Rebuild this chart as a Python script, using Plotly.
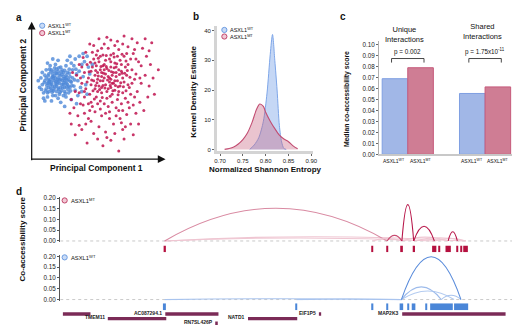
import plotly.graph_objects as go

W, H = 520, 325
def px(x): return x / W
def py(y): return 1 - y / H

FONT = "Liberation Sans, Arial, sans-serif"

# ---------------- panel a : PCA ----------------
wt_points = [(1.2,5.6),(1.4,5.9),(1.6,5.4),(1.8,6.0),(2.0,5.7),(2.2,5.3),(2.4,6.1),(2.6,5.6),(2.8,5.9),(1.0,5.8),
    (1.3,6.3),(1.5,5.1),(1.7,6.5),(1.9,5.0),(2.1,6.3),(2.3,5.8),(2.5,5.0),(2.7,6.4),(2.9,5.3),(3.1,6.0),
    (1.1,5.2),(1.4,5.5),(1.6,6.1),(1.8,5.6),(2.0,6.0),(2.2,5.9),(2.4,5.5),(2.6,6.2),(2.8,5.4),(3.0,5.7),
    (0.8,5.5),(1.0,6.2),(1.2,4.9),(1.5,6.6),(1.7,5.2),(1.9,6.3),(2.1,4.8),(2.3,6.6),(2.5,5.3),(2.7,5.8),
    (0.7,6.0),(0.9,4.9),(1.3,5.0),(1.6,4.7),(2.0,4.5),(2.4,4.7),(2.8,4.9),(3.2,5.4),(3.4,6.3),(3.1,6.6),
    (1.1,6.6),(1.4,6.9),(1.8,7.0),(2.2,6.8),(2.6,6.9),(3.0,7.1),(3.3,5.1),(3.5,5.8),(0.6,5.3),(0.8,6.4),
    (1.9,5.4),(2.1,5.6),(1.7,5.8),(2.3,5.5),(1.5,5.7),(2.5,5.8),(1.3,5.3),(2.9,6.1),(1.1,6.0),(2.0,6.5),
    (1.6,6.3),(2.4,6.4),(1.8,4.7),(2.6,4.6),(1.2,4.6),(3.6,6.5),(3.8,7.0),(3.3,7.4),(2.9,7.6),(3.9,7.8),
    (4.2,7.6),(4.3,6.8),(3.7,5.3),(3.9,6.1),(4.1,5.5),(3.5,4.7),(2.2,4.2),(1.5,4.3),(3.0,4.4),(0.9,4.5),
    (2.7,7.3),(3.6,7.6),(4.0,7.2),(1.2,7.1),(0.5,5.8),(1.0,4.3),(2.5,3.9),(3.4,4.1),(4.4,6.3),(4.6,7.0),
    (2.0,7.3),(1.6,7.4),(3.2,6.9),(3.8,5.0),(4.2,4.8),
    (1.15,5.45),(1.35,5.75),(1.55,6.05),(1.75,5.35),(1.95,5.85),(2.15,6.15),(2.35,5.25),(2.55,5.95),(2.75,5.15),(2.95,5.75),
    (1.25,6.15),(1.45,5.25),(1.65,5.95),(1.85,6.35),(2.05,5.15),(2.25,6.45),(2.45,5.65),(2.65,6.05),(2.85,6.35),(3.05,5.45),
    (1.05,5.05),(1.25,5.85),(1.45,6.45),(1.65,5.05),(1.85,5.75),(2.05,6.75),(2.25,5.05),(2.45,5.95),(2.65,5.35),(2.85,6.65),
    (0.95,5.65),(1.35,6.65),(1.75,6.75),(2.15,4.95),(2.55,4.85),(2.95,5.05),(3.25,5.85),(3.35,6.65),(0.75,5.15),(1.55,4.95),
    (1.9,5.55),(2.1,5.85),(1.7,6.15),(2.3,6.25),(1.5,5.55),(2.5,6.55),(1.3,5.65),(2.7,5.55),(1.9,6.65),(2.0,5.25)]
mt_points = [(4.5,5.5),(4.8,6.2),(5.0,5.0),(5.2,6.6),(5.4,5.8),(5.6,6.3),(5.8,5.2),(6.0,6.8),(6.2,5.6),(6.4,6.1),
    (6.6,5.0),(6.8,6.5),(7.0,5.7),(4.6,6.8),(4.9,4.6),(5.1,7.2),(5.3,4.9),(5.5,7.0),(5.7,4.5),(5.9,7.4),
    (6.1,4.8),(6.3,7.1),(6.5,4.4),(6.7,7.3),(6.9,4.9),(7.2,6.2),(7.4,5.3),(4.3,6.0),(4.4,4.8),(4.7,7.4),
    (5.0,5.9),(5.3,6.1),(5.6,5.5),(5.9,6.0),(6.2,6.4),(6.5,5.8),(5.1,5.4),(5.4,6.9),(5.7,6.7),(6.0,5.3),
    (6.3,5.1),(6.6,6.6),(4.8,5.2),(5.2,4.3),(5.5,4.1),(5.8,3.9),(6.1,4.2),(6.4,3.8),(6.8,4.1),(7.1,4.5),
    (4.1,5.2),(4.0,6.4),(4.2,7.0),(4.6,7.9),(5.0,8.0),(5.4,7.7),(5.8,8.2),(6.2,7.8),(6.6,8.1),(7.0,7.6),
    (7.3,7.0),(7.6,6.6),(7.8,5.9),(7.5,4.8),(7.7,4.0),(4.5,4.2),(4.0,4.6),(3.8,5.6),(3.6,4.9),(3.9,7.5),
    (3.2,3.8),(3.5,3.2),(3.0,2.6),(3.8,2.2),(4.2,1.2),(4.5,2.8),(4.8,3.5),(5.1,2.4),(5.3,3.2),(5.6,2.0),
    (5.9,3.0),(6.2,2.6),(6.6,0.6),(6.0,1.4),(6.9,2.2),(7.2,3.3),(7.5,2.6),(7.9,3.4),(8.2,4.2),(8.5,3.6),
    (8.0,5.0),(8.3,5.6),(8.6,6.2),(8.9,5.4),(9.2,6.0),(9.6,6.6),(9.0,7.0),(8.7,7.6),(8.4,8.2),(8.0,8.6),
    (7.6,8.9),(7.0,9.1),(6.5,8.7),(6.0,8.8),(5.5,8.5),(5.1,8.9),(4.7,8.4),(7.3,8.3),(7.9,7.4),(8.3,6.9),
    (3.4,6.2),(3.3,5.0),(3.7,4.1),(2.9,3.4),(4.0,3.4),(4.4,3.6),(5.0,1.5),(5.4,1.0),(4.7,1.9),(7.0,1.5),
    (6.4,3.2),(6.7,3.0),(7.4,3.8),(8.8,4.6),(9.3,4.8),(8.1,2.6),(7.7,1.8),(3.3,1.8),(3.6,2.5),(4.1,2.6),
    (5.7,1.6),(6.3,1.9),(6.8,2.7),(7.1,2.4),(5.2,3.7),(5.6,3.4),(4.3,3.0),(8.9,8.0),(9.1,8.6),(8.6,8.9),
    (7.8,8.1),(6.9,8.5),(6.3,8.4),(5.7,9.0),(4.9,7.7),(4.4,8.5),(4.1,7.9),(3.6,7.0),(3.1,6.4),(3.0,4.4),
    (5.5,6.0),(5.9,5.7),(6.1,6.2),(5.3,5.3),(5.0,6.4),(4.7,5.8),(6.4,6.8),(6.7,5.4),(6.9,6.0),(7.1,6.8),
    (7.3,5.5),(6.0,7.2),(5.6,7.3),(5.2,7.6),(4.5,6.5),(4.2,5.7),(6.8,7.0),(7.5,7.4),(7.9,6.3),(8.1,7.2),
    (4.55,5.85),(4.85,6.55),(5.15,5.15),(5.45,6.35),(5.75,5.85),(6.05,6.45),(6.35,5.45),(6.65,6.25),(6.95,5.35),(7.25,6.55),
    (4.65,5.05),(4.95,5.65),(5.25,6.85),(5.55,5.25),(5.85,6.55),(6.15,5.05),(6.45,7.05),(6.75,5.65),(7.05,6.35),(4.45,7.15),
    (4.75,4.45),(5.05,7.45),(5.35,4.55),(5.65,7.65),(5.95,4.65),(6.25,7.55),(6.55,4.75),(6.85,7.75),(7.15,5.05),(7.45,6.05),
    (5.2,5.8),(5.5,6.6),(5.8,6.1),(6.1,5.6),(6.4,6.4),(5.3,6.4),(6.0,5.9),(5.7,5.0),(6.3,5.8),(4.9,6.9),
    (5.4,5.45),(5.65,6.85),(5.95,5.45),(6.25,6.75),(6.55,5.35),(4.85,5.45),(5.05,6.15),(6.85,6.35),(7.15,7.25),(4.35,6.45),
    (3.9,4.0),(4.3,4.1),(4.6,3.9),(5.0,4.1),(6.9,3.6),(7.3,4.2),(7.8,4.6),(7.7,7.8),(8.2,6.0),(3.7,6.0),
    (4.0,5.0),(3.8,6.8),(6.5,7.6),(6.0,7.7),(5.3,8.2),(4.8,7.1),(7.6,5.6),(7.2,7.8),(6.6,3.6),(5.9,3.5)]
wt_pc1 = [p[0] for p in wt_points]; wt_pc2 = [p[1] for p in wt_points]
mt_pc1 = [p[0] for p in mt_points]; mt_pc2 = [p[1] for p in mt_points]

# ---------------- panel b : KDE ----------------
entropy_wt = [0.765,0.775,0.785,0.795,0.803,0.81,0.815,0.82,0.825,0.83,0.835,0.84,0.845]
kde_wt = [0,1.5,4,9.5,19,32,38.7,30,20,8,2.5,0.3,0]
entropy_mt = [0.71,0.72,0.73,0.74,0.75,0.76,0.77,0.78,0.787,0.795,0.80,0.81,0.82,0.83,0.84,0.85,0.86,0.87]
kde_mt = [0,0.3,0.8,1.8,3.3,5.5,9,13.5,15.3,14.5,12.5,9.5,7.0,4.8,3.5,2.6,1.2,0.2]
b_xticks = [0.70,0.75,0.80,0.85,0.90]
b_yticks = [0,10,20,30,40]

# ---------------- panel c : bars ----------------
groups = ["Unique", "Shared"]
group_titles = ["Unique<br>Interactions", "Shared<br>Interactions"]
median_wt = [0.069, 0.0555]
median_mt = [0.079, 0.0615]
p_labels = ["p = 0.002", "p = 1.75x10<sup>-11</sup>"]
c_yticks = [0.00,0.01,0.02,0.03,0.04,0.05,0.06,0.07,0.08,0.09,0.10]

# ---------------- panel d : co-accessibility ----------------
mt_peak_start = [105,316.7,331.7,346,358,377.7,384,391.3,402.7,406.7,409.3]
mt_peak_end   = [107.3,317.7,332.7,348,360.3,382,385.3,396.7,404,408,414]
wt_peak_start = [104.3,239.3,316.7,331.3,344.7,352.7,357,370.7,375.7,400]
wt_peak_end   = [107.3,240.7,318,332.7,348.3,354.3,360.7,372.3,398.7,414.3]
mt_link_start = [106,106,106,317,347,359,380,332,347,359,394]
mt_link_end   = [410,380,332,347,394,412,412,347,359,380,403.3]
mt_link_score = [0.02,0.014,0.153,0.012,0.018,0.015,0.012,0.026,0.17,0.069,0.043]
wt_link_start = [106,240,346.5,346.5,387,346.5]
wt_link_end   = [347,347,400,387,407,407]
wt_link_score = [0.004,0.003,0.04,0.059,0.02,0.198]
gene_names = ["", "TMEM11", "AC087294.1", "RN7SL426P", "NATD1", "EIF1P5", "MAP2K3"]
gene_start = [2.7,48.3,106.7,158.3,190.7,262.7,347.3]
gene_end   = [30.7,107.7,160.7,160,240.7,265,452.3]
gene_row   = [1,2,1,3,2,1,1]
d_yticks = [0,0.05,0.10,0.15,0.20]
region = [0, 470]

# ---------------- styles ----------------
BLUE_PT = "#4d88d8"; RED_PT = "#c0134f"
mt_link_colors = ["#efc6d2","#efc6d2","#d98aa2","#efc6d2","#efc6d2","#efc6d2","#efc6d2","#c84a70","#b8174a","#b8174a","#b8174a"]
wt_link_colors = ["#a9c4ee","#a9c4ee","#b3cbf0","#9dbbeb","#a9c4ee","#5a8cdb"]

fig = go.Figure()

# a
fig.add_trace(go.Scatter(x=wt_pc1, y=wt_pc2, mode="markers", xaxis="x", yaxis="y",
                         marker=dict(size=3.8, color=BLUE_PT, opacity=0.8, line=dict(width=0))))
fig.add_trace(go.Scatter(x=mt_pc1, y=mt_pc2, mode="markers", xaxis="x", yaxis="y",
                         marker=dict(size=3, color=RED_PT, opacity=0.85, line=dict(width=0))))
# b
fig.add_trace(go.Scatter(x=entropy_wt, y=kde_wt, mode="lines", fill="tozeroy", xaxis="x2", yaxis="y2",
                         line=dict(color="#7ea6e8", width=1, shape="spline", smoothing=0.8),
                         fillcolor="rgba(140,175,235,0.5)"))
fig.add_trace(go.Scatter(x=entropy_mt, y=kde_mt, mode="lines", fill="tozeroy", xaxis="x2", yaxis="y2",
                         line=dict(color="#c24d72", width=1.1, shape="spline", smoothing=0.8),
                         fillcolor="rgba(200,100,130,0.38)"))
# c
fig.add_trace(go.Bar(x=groups, y=median_wt, xaxis="x3", yaxis="y3",
                     marker=dict(color="#a1b7e7", line=dict(color="#7f9fe2", width=1))))
fig.add_trace(go.Bar(x=groups, y=median_mt, xaxis="x3", yaxis="y3",
                     marker=dict(color="#cf7d94", line=dict(color="#c65a7b", width=1))))
# d baselines
for ya in ["y4", "y6"]:
    fig.add_trace(go.Scatter(x=region, y=[0, 0], mode="lines", xaxis="x4", yaxis=ya,
                             line=dict(color="#c8c8c8", width=1, dash="3px,3px")))
# peaks
fig.add_trace(go.Bar(x=[(s+e)/2 for s, e in zip(mt_peak_start, mt_peak_end)], y=[1]*len(mt_peak_start),
                     width=[e-s for s, e in zip(mt_peak_start, mt_peak_end)], base=0,
                     xaxis="x4", yaxis="y5", marker=dict(color="#b5103f", line=dict(width=0))))
fig.add_trace(go.Bar(x=[(s+e)/2 for s, e in zip(wt_peak_start, wt_peak_end)], y=[1]*len(wt_peak_start),
                     width=[e-s for s, e in zip(wt_peak_start, wt_peak_end)], base=0,
                     xaxis="x4", yaxis="y7", marker=dict(color="#4a86d8", line=dict(width=0))))
# genes
fig.add_trace(go.Bar(y=gene_row, x=[e-s for s, e in zip(gene_start, gene_end)], base=gene_start,
                     orientation="h", width=0.75, xaxis="x4", yaxis="y8",
                     marker=dict(color="#7b2b57", line=dict(width=0))))

shapes = []
for s, e, sc, col in zip(mt_link_start, mt_link_end, mt_link_score, mt_link_colors):
    shapes.append(dict(type="path", path=f"M {s},0 Q {(s+e)/2},{2*sc} {e},0", xref="x4", yref="y4",
                       line=dict(color=col, width=1.1), fillcolor="rgba(0,0,0,0)"))
for s, e, sc, col in zip(wt_link_start, wt_link_end, wt_link_score, wt_link_colors):
    shapes.append(dict(type="path", path=f"M {s},0 Q {(s+e)/2},{2*sc} {e},0", xref="x4", yref="y6",
                       line=dict(color=col, width=1.1), fillcolor="rgba(0,0,0,0)"))
for i in range(len(groups)):
    for (x0, y0, x1, y1) in [(i-0.21, 0.0837, i-0.21, 0.0874), (i-0.21, 0.0874, i+0.21, 0.0874),
                             (i+0.21, 0.0874, i+0.21, 0.0837)]:
        shapes.append(dict(type="line", xref="x3", yref="y3", x0=x0, y0=y0, x1=x1, y1=y1,
                           line=dict(color="#333", width=0.9)))
def circ(cx, cy, line, fill):
    shapes.append(dict(type="circle", xref="paper", yref="paper", xsizemode="pixel", ysizemode="pixel",
                       xanchor=px(cx), yanchor=py(cy), x0=-2.6, x1=2.6, y0=-2.6, y1=2.6,
                       line=dict(color=line, width=1), fillcolor=fill))
BL, BF, RL, RF = "#6d9de2", "#c9dbf6", "#c2456c", "#f1c9d5"
circ(31.7, 15, BL, BF); circ(31.7, 22.5, RL, RF)
circ(216.7, 19.3, BL, BF); circ(216.7, 26, RL, RF)
circ(54.5, 193, RL, RF); circ(54.5, 251, BL, BF)

ann = []
def text(x, y, t, size=7, bold=False, xanchor="center", yanchor="middle", angle=0, color="#111", **kw):
    ann.append(dict(x=px(x), y=py(y), xref="paper", yref="paper", text=(f"<b>{t}</b>" if bold else t),
                    showarrow=False, xanchor=xanchor, yanchor=yanchor, textangle=angle,
                    font=dict(family=FONT, size=size, color=color), **kw))
text(3, 7, "a", 10, True, "left"); text(183, 6, "b", 10, True, "left")
text(332, 6, "c", 10, True, "left"); text(3, 184, "d", 10, True, "left")
# a
text(87, 160, "Principal Component 1", 8.5, True)
text(12, 75, "Principal Component 2", 8.5, True, angle=-90)
text(35.5, 15, "ASXL1<sup>WT</sup>", 5.5, False, "left")
text(35.5, 22.5, "ASXL1<sup>MT</sup>", 5.5, False, "left")
ann.append(dict(x=px(157), y=py(151), xref="paper", yref="paper", ax=-136, ay=0, text="", showarrow=True,
                arrowhead=2, arrowsize=1.3, arrowwidth=1.2, arrowcolor="#111"))
ann.append(dict(x=px(21), y=py(11), xref="paper", yref="paper", ax=0, ay=140, text="", showarrow=True,
                arrowhead=2, arrowsize=1.3, arrowwidth=1.2, arrowcolor="#111"))
# b
text(258, 161, "Normalized Shannon Entropy", 8, True)
text(185, 82, "Kernel Density Estimate", 8, True, angle=-90)
text(220.5, 19.3, "ASXL1<sup>WT</sup>", 5.5, False, "left")
text(220.5, 26, "ASXL1<sup>MT</sup>", 5.5, False, "left")
# c
text(342, 90, "Median co-accessibility score", 6.8, True, angle=-90)
text(400, 24, group_titles[0], 7.5)
text(479, 21, group_titles[1], 7.5)
for i, g in enumerate(groups):
    ann.append(dict(x=i, y=0.0934, xref="x3", yref="y3", text=p_labels[i], showarrow=False,
                    yanchor="middle", font=dict(family=FONT, size=6.3, color="#111")))
    for lab, sh in [("ASXL1<sup>WT</sup>", -13.5), ("ASXL1<sup>MT</sup>", 12.5)]:
        ann.append(dict(x=i, y=py(153), xref="x3", yref="paper", xshift=sh, text=lab, showarrow=False,
                        yanchor="middle", font=dict(family=FONT, size=5, color="#111")))
# d
text(12, 232, "Co-accessibility score", 8, True, angle=-90)
text(59, 193, "ASXL1<sup>MT</sup>", 5.8, False, "left")
text(59, 251, "ASXL1<sup>WT</sup>", 5.8, False, "left")
for n, s, r in zip(gene_names, gene_start, gene_row):
    if n:
        ann.append(dict(x=s, y=r, xref="x4", yref="y8", text=f"<b>{n}</b>", showarrow=False,
                        xanchor="right", yanchor="middle", xshift=-2, yshift=1.5, borderpad=0,
                        font=dict(family=FONT, size=5, color="#222")))

tickfont = dict(family=FONT, size=6.3, color="#222")
hid = dict(visible=False, showgrid=False, zeroline=False)
fig.update_layout(
    width=W, height=H, margin=dict(l=0, r=0, t=0, b=0), showlegend=False,
    paper_bgcolor="white", plot_bgcolor="rgba(0,0,0,0)",
    barmode="group", bargap=0.338, bargroupgap=0,
    font=dict(family=FONT),
    xaxis=dict(domain=[px(21), px(155)], range=[0, 10], anchor="y", **hid),
    yaxis=dict(domain=[py(151), py(13)], range=[0, 10], anchor="x", **hid),
    xaxis2=dict(domain=[px(209), px(307)], range=[0.6929, 0.9043], anchor="y2", showgrid=False, zeroline=False,
                showline=True, linecolor="#d4d4d4", linewidth=2.5, tickvals=b_xticks, tickformat=".2f",
                ticks="outside", ticklen=2, tickcolor="#666", tickwidth=0.7, tickfont=dict(family=FONT, size=6, color="#222")),
    yaxis2=dict(domain=[py(143), py(15)], range=[-0.66, 41.65], anchor="x2", showgrid=False, zeroline=False,
                showline=True, linecolor="#d4d4d4", linewidth=2.5, tickvals=b_yticks,
                ticks="outside", ticklen=2, tickcolor="#666", tickwidth=0.7, tickfont=dict(family=FONT, size=6, color="#222")),
    xaxis3=dict(domain=[px(374), px(515)], range=[-0.369, 1.427], anchor="y3", showgrid=False, zeroline=False,
                showline=True, linecolor="#c8c8c8", linewidth=2, showticklabels=False, ticks=""),
    yaxis3=dict(domain=[py(146), py(31)], range=[0, 0.103], anchor="x3", showgrid=False, zeroline=False,
                showline=True, linecolor="#b0b0b0", linewidth=1.2, tickvals=c_yticks, tickformat=".2f",
                ticks="outside", ticklen=2, tickcolor="#666", tickwidth=0.7, tickfont=tickfont),
    xaxis4=dict(domain=[px(50), 1], range=region, anchor="y6", **hid),
    yaxis4=dict(domain=[py(235.5), py(189.5)], range=[-0.0055, 0.2055], anchor="x4", showgrid=False, zeroline=False,
                showline=True, linecolor="#555", linewidth=1.3, tickvals=d_yticks, tickformat=".2f",
                ticks="outside", ticklen=2, tickcolor="#555", tickwidth=0.8, tickfont=tickfont),
    yaxis5=dict(domain=[py(245.7), py(239)], range=[0, 1], anchor="x4", **hid),
    yaxis6=dict(domain=[py(295), py(249)], range=[-0.0045, 0.2045], anchor="x4", showgrid=False, zeroline=False,
                showline=True, linecolor="#555", linewidth=1.3, tickvals=d_yticks, tickformat=".2f",
                ticks="outside", ticklen=2, tickcolor="#555", tickwidth=0.8, tickfont=tickfont),
    yaxis7=dict(domain=[py(305), py(297.7)], range=[0, 1], anchor="x4", **hid),
    yaxis8=dict(domain=[py(323), py(304)], range=[4.04, 0], anchor="x4", **hid),
    shapes=shapes, annotations=ann,
)
fig.write_html("out.html")
